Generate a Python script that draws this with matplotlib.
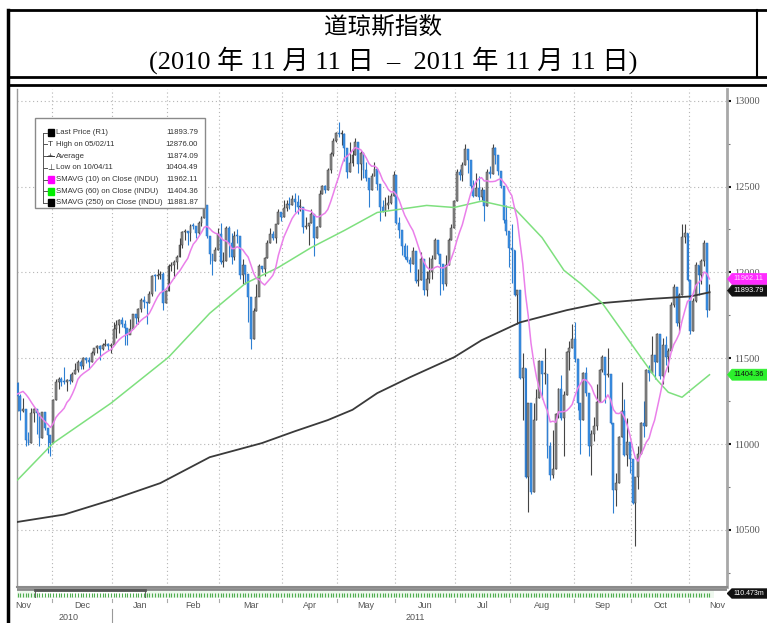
import numpy as np
import pandas as pd
import matplotlib
matplotlib.use("Agg")
import matplotlib.pyplot as plt
from matplotlib.patches import Rectangle, Polygon

# ---------------- data ----------------
title_line1 = "道琼斯指数"
title_line2 = "(2010 年 11 月 11 日  –  2011 年 11 月 11 日)"

start_date, end_date = "2010-11-11", "2011-11-10"
holidays = ["2010-11-25", "2010-12-24", "2011-01-17", "2011-02-21", "2011-04-22",
            "2011-05-30", "2011-07-04", "2011-09-05", "2011-11-24"]

prior_closes = [11118, 11125, 11189, 11215, 11435, 11444, 11407, 11347, 11357]

closes = [
    11283, 11193, 11202, 11024, 11008, 11181, 11204, 11179, 11036, 11187, 11092, 11052, 11006,
    11256, 11362, 11382, 11362, 11359, 11372, 11370, 11410, 11429, 11477, 11457, 11499, 11492, 11478,
    11533, 11559, 11573, 11555, 11576, 11585, 11570, 11578,
    11671, 11691, 11723, 11697, 11675, 11637, 11672, 11755, 11732, 11787, 11838, 11825, 11823, 11872,
    11981, 11977, 11985, 11990, 11824, 11892,
    12040, 12042, 12062, 12092, 12162, 12233, 12240, 12229, 12273, 12268, 12227, 12288, 12318, 12391,
    12213, 12106, 12069, 12130, 12226,
    12058, 12067, 12258, 12170, 12090, 12214, 12213, 11985, 12044, 11993, 11855, 11613, 11775, 11859,
    12037, 12019, 12086, 12171, 12221, 12198, 12279, 12351, 12320,
    12377, 12400, 12394, 12427, 12409, 12380, 12381, 12264, 12271, 12285, 12342, 12202, 12267, 12454,
    12506, 12480, 12595, 12691, 12763, 12811,
    12807, 12808, 12724, 12584, 12639, 12685, 12760, 12630, 12696, 12596, 12548, 12480, 12560, 12605,
    12512, 12381, 12356, 12395, 12403, 12442, 12570,
    12290, 12249, 12151, 12090, 12071, 12049, 12124, 11952, 11953, 12076, 11897, 11962, 12004, 12080,
    12190, 12110, 12050, 11935, 12044, 12189, 12261, 12414,
    12583, 12570, 12626, 12719, 12657, 12506, 12447, 12492, 12437, 12480, 12385, 12587, 12572, 12724,
    12681, 12593, 12501, 12303, 12240, 12143,
    12132, 11867, 11896, 11384, 11445, 10810, 11240, 10720, 11143, 11269, 11483, 11406, 11410, 10991,
    10818, 10855, 11177, 11321, 11150, 11285, 11539, 11560, 11614,
    11494, 11240, 11139, 11415, 11296, 10992, 11061, 11106, 11247, 11433, 11509, 11401, 11409, 11125,
    10734, 10771, 11044, 11191, 10938, 11011, 10913,
    10655, 10809, 10940, 11123, 11103, 11433, 11416, 11519, 11478, 11644, 11397, 11577, 11505, 11542,
    11809, 11914, 11707, 11869, 12209, 12231, 11955,
    11658, 11836, 12044, 11983, 12068, 12170, 11781, 11894,
]

highs = [
    11360, 11290, 11270, 11202, 11070, 11210, 11210, 11204, 11179, 11190, 11187, 11092, 11052,
    11260, 11380, 11390, 11390, 11450, 11380, 11410, 11420, 11470, 11490, 11490, 11510, 11510, 11510,
    11540, 11560, 11575, 11575, 11590, 11610, 11590, 11590,
    11710, 11720, 11730, 11740, 11720, 11675, 11730, 11760, 11760, 11790, 11850, 11860, 11830, 11890,
    11985, 11990, 12020, 12010, 12000, 11900,
    12050, 12060, 12070, 12100, 12200, 12240, 12250, 12240, 12280, 12290, 12270, 12300, 12330, 12400,
    12391, 12213, 12110, 12150, 12260,
    12290, 12120, 12270, 12270, 12230, 12240, 12250, 12213, 12080, 12044, 11990, 11855, 11790, 11930,
    12050, 12040, 12090, 12190, 12260, 12240, 12280, 12370, 12350,
    12420, 12420, 12440, 12450, 12460, 12450, 12430, 12381, 12320, 12290, 12370, 12342, 12270, 12480,
    12510, 12510, 12610, 12700, 12780, 12820,
    12876, 12830, 12810, 12724, 12760, 12710, 12780, 12760, 12710, 12700, 12640, 12550, 12580, 12640,
    12605, 12512, 12420, 12440, 12450, 12460, 12590,
    12570, 12320, 12249, 12170, 12160, 12090, 12150, 12124, 12020, 12120, 12076, 12010, 12090, 12100,
    12200, 12190, 12110, 12050, 12100, 12200, 12280, 12420,
    12600, 12600, 12640, 12750, 12719, 12657, 12540, 12580, 12560, 12500, 12480, 12600, 12620, 12750,
    12730, 12681, 12593, 12501, 12390, 12240,
    12280, 12130, 11900, 11896, 11530, 11445, 11240, 11240, 11240, 11320, 11490, 11483, 11560, 11410,
    11010, 11080, 11180, 11325, 11400, 11310, 11540, 11600, 11700,
    11710, 11494, 11240, 11420, 11450, 11296, 11080, 11160, 11350, 11440, 11520, 11509, 11560, 11409,
    11125, 10830, 11050, 11360, 11260, 11150, 11011,
    10913, 10810, 10990, 11130, 11250, 11435, 11460, 11630, 11519, 11650, 11644, 11620, 11630, 11560,
    11830, 11930, 11914, 11880, 12280, 12280, 12231,
    11955, 11850, 12060, 12044, 12080, 12190, 12170, 11930,
]

lows = [
    11195, 11140, 11190, 10990, 10995, 11008, 11130, 11060, 10990, 11036, 11080, 10950, 10930,
    11006, 11255, 11320, 11340, 11350, 11310, 11350, 11360, 11410, 11420, 11440, 11440, 11470, 11440,
    11480, 11520, 11530, 11490, 11550, 11570, 11550, 11530,
    11578, 11620, 11650, 11680, 11580, 11580, 11640, 11672, 11700, 11700, 11770, 11790, 11700, 11820,
    11860, 11890, 11960, 11960, 11780, 11820,
    11892, 12010, 11970, 12020, 12092, 12140, 12190, 12160, 12180, 12250, 12200, 12220, 12270, 12318,
    12200, 12050, 11985, 12069, 12130,
    12050, 12030, 12067, 12090, 12050, 12070, 12170, 11960, 11930, 11930, 11710, 11555, 11613, 11775,
    11860, 12000, 11980, 12086, 12170, 12190, 12170, 12279, 12300,
    12320, 12360, 12370, 12394, 12350, 12340, 12360, 12230, 12250, 12160, 12285, 12094, 12200, 12267,
    12454, 12460, 12480, 12580, 12680, 12760,
    12790, 12740, 12650, 12550, 12584, 12620, 12685, 12580, 12540, 12550, 12530, 12380, 12480, 12560,
    12480, 12300, 12350, 12330, 12370, 12400, 12442,
    12280, 12200, 12100, 12080, 12060, 12000, 12049, 11940, 11920, 11953, 11870, 11860, 11940, 11960,
    12080, 12100, 11870, 11900, 11920, 12044, 12189, 12261,
    12414, 12540, 12530, 12626, 12580, 12490, 12440, 12447, 12420, 12420, 12300, 12385, 12550, 12572,
    12630, 12570, 12490, 12290, 12220, 12030,
    11940, 11860, 11700, 11380, 11140, 10800, 10604, 10710, 10720, 11140, 11269, 11260, 11350, 10920,
    10790, 10800, 10855, 11150, 11140, 10930, 11285, 11430, 11560,
    11480, 11200, 10940, 11139, 11280, 10930, 10820, 11020, 11080, 11247, 11420, 11240, 11390, 11120,
    10600, 10640, 10771, 11044, 10930, 10870, 10830,
    10650, 10404, 10740, 10940, 11040, 11103, 11370, 11416, 11380, 11478, 11380, 11350, 11460, 11420,
    11542, 11800, 11690, 11650, 11869, 12170, 11950,
    11640, 11658, 11830, 11870, 11930, 12040, 11740, 11780,
]

# moving averages (trading-day index, value)
sma60_idx = [0, 13, 34, 55, 70, 83, 95, 107, 119, 131, 149, 159, 169, 181, 191, 199, 205, 213,
             220, 227, 233, 237, 242, 246, 252]
sma60_val = [10791, 11006, 11238, 11506, 11762, 11936, 12029, 12145, 12244, 12349, 12390, 12378,
             12415, 12372, 12203, 12012, 11936, 11820, 11663, 11506, 11372, 11302, 11273, 11326, 11404]
sma250_idx = [0, 17, 34, 52, 70, 89, 101, 113, 122, 131, 143, 159, 169, 183, 200, 212, 230, 245, 252]
sma250_val = [10547, 10590, 10674, 10773, 10924, 11006, 11075, 11140, 11200, 11297, 11390, 11506,
              11605, 11709, 11780, 11820, 11845, 11860, 11884]

legend_labels = ["Last Price (R1)", "High on 05/02/11", "Average", "Low on 10/04/11",
                 "SMAVG (10) on Close (INDU)", "SMAVG (60) on Close (INDU)",
                 "SMAVG (250) on Close (INDU)"]
legend_values = ["11893.79", "12876.00", "11874.09", "10404.49", "11962.11", "11404.36", "11881.87"]
tag_values = [11962.11, 11893.79, 11404.36]
tag_texts = ["11962.11", "11893.79", "11404.36"]
volume_tag = "110.473m"
y_major = [10500, 11000, 11500, 12000, 12500, 13000]

# ---------------- calendar ----------------
hol = pd.to_datetime(holidays)
full_days = pd.bdate_range("2010-11-01", "2011-11-30")
full_days = full_days[~full_days.isin(hol)]
days = full_days[(full_days >= start_date) & (full_days <= end_date)]
n = len(days)
offset = int(np.where(full_days == pd.Timestamp(start_date))[0][0])
full_idx = np.arange(len(full_days)) - offset

closes = np.array(closes[:n], float)
highs = np.array(highs[:n], float)
lows = np.array(lows[:n], float)
opens = np.concatenate([[prior_closes[-1]], closes[:-1]])
x = np.arange(n)
sma10 = pd.Series(list(prior_closes) + list(closes)).rolling(10).mean().to_numpy()[len(prior_closes):]

month_key = full_days.year * 100 + full_days.month
month_mid = pd.Series(full_idx).groupby(month_key).mean()
vis_key = days.year * 100 + days.month
month_start = pd.Series(x).groupby(vis_key).min()
vis_year = pd.Series(x).groupby(days.year).mean()

# ---------------- figure ----------------
W, H = 767, 623
fig = plt.figure(figsize=(W / 100, H / 100), dpi=100)
fig.patch.set_facecolor("white")

PX0, PXSTEP = 17.5, 2.746
L_PX, R_PX, T_PX, B_PX = 16.5, 727, 89, 587
xl = ((L_PX - PX0) / PXSTEP, (R_PX - PX0) / PXSTEP)
VPP = 5.823
ylo = 12000 - (B_PX - 272.4) * VPP
yhi = 12000 + (272.4 - T_PX) * VPP

small_font = ["Liberation Sans", "DejaVu Sans"]

bg = fig.add_axes([0, 0, 1, 1])
bg.set_xlim(0, W); bg.set_ylim(H, 0); bg.axis("off")

# frame and title
bg.plot([8, 767], [10, 10], color="black", lw=2)
bg.plot([8, 8], [10, 623], color="black", lw=2.5)
bg.plot([757, 757], [10, 77], color="black", lw=1.5)
bg.plot([8, 767], [77, 77], color="black", lw=2)
bg.plot([8, 767], [85, 85], color="black", lw=2)
bg.text(383, 27, title_line1, ha="center", va="center", fontsize=17,
        family=["Noto Sans CJK SC"], color="black")
bg.text(393, 60, title_line2, ha="center", va="center", fontsize=19,
        family=["Liberation Serif", "Noto Sans CJK SC"], color="black")

ax = fig.add_axes([L_PX / W, 1 - B_PX / H, (R_PX - L_PX) / W, (B_PX - T_PX) / H])
ax.set_facecolor("white")
ax.set_xlim(*xl)
ax.set_ylim(ylo, yhi)

grid_kw = dict(color="#b5b5b5", lw=0.8, ls=(0, (1, 2.5)), zorder=0)
for v in y_major:
    ax.axhline(v, **grid_kw)
for s in month_start.values[1:]:
    ax.axvline(s - 0.5, **grid_kw)

up = closes >= opens
ax.vlines(x[up], lows[up], highs[up], color="#444444", lw=0.8, zorder=2)
ax.vlines(x[~up], lows[~up], highs[~up], color="#2d7fd2", lw=0.8, zorder=2)
body_h = np.maximum(np.abs(closes - opens), 6)
body_b = np.minimum(closes, opens)
ax.bar(x[up], body_h[up], bottom=body_b[up], width=0.7, color="#8d8d8d",
       edgecolor="#3a3a3a", lw=0.35, zorder=3)
ax.bar(x[~up], body_h[~up], bottom=body_b[~up], width=0.7, color="#3a90e4",
       edgecolor="#2a70c0", lw=0.35, zorder=3)

ax.plot(sma250_idx, sma250_val, color="#3a3a3a", lw=1.3, zorder=4)
ax.plot(sma60_idx, sma60_val, color="#7ee07e", lw=1.1, zorder=4)
ax.plot(x, sma10, color="#ea80ea", lw=1.1, zorder=4)

ax.spines["top"].set_visible(False)
ax.spines["left"].set_color("#9a9a9a"); ax.spines["left"].set_lw(1)
ax.spines["bottom"].set_color("#8a8a8a"); ax.spines["bottom"].set_lw(1.5)
ax.spines["right"].set_color("#a8a8a8"); ax.spines["right"].set_lw(2)
ax.set_xticks([])
ax.yaxis.tick_right()
ax.set_yticks(y_major)
ax.set_yticklabels([str(v) for v in y_major])
ax.set_yticks(np.arange(10250, 13100, 250), minor=True)
ax.tick_params(axis="y", which="major", direction="out", length=3, width=1.5, color="#111",
               pad=2, labelsize=7.5, labelcolor="#555555")
ax.tick_params(axis="y", which="minor", direction="out", length=2, width=0.8, color="#777")
for lab in ax.get_yticklabels():
    lab.set_family(["Liberation Serif"])

# navigation / volume strip
sx = fig.add_axes([L_PX / W, 1 - 598 / H, (R_PX - L_PX) / W, 10 / H])
sx.set_xlim(*xl); sx.set_ylim(0, 1)
sx.set_xticks([]); sx.set_yticks([])
for sp in sx.spines.values():
    sp.set_visible(False)
sx.axhline(0.95, color="#8a8a8a", lw=2)
sx.add_patch(Rectangle((xl[0], 0.05), n + 0.5 - xl[0], 0.75, color="#eef8ee", lw=0))
sx.vlines(x, 0.1, 0.55, color="#4fae4f", lw=0.8)
sx.add_patch(Rectangle((6.4, 0.05), 40, 0.8, facecolor="white", edgecolor="#666", lw=0.8))
sx.plot([6.4, 46.4], [0.85, 0.85], color="#555", lw=2)

# month / year labels
names = {1: "Jan", 2: "Feb", 3: "Mar", 4: "Apr", 5: "May", 6: "Jun", 7: "Jul", 8: "Aug",
         9: "Sep", 10: "Oct", 11: "Nov", 12: "Dec"}
for key, mid in month_mid.items():
    px = PX0 + PXSTEP * mid
    bg.text(px, 606, names[key % 100], ha="center", va="center", fontsize=6.5,
            family=small_font, color="#555555")
for yr, mid in vis_year.items():
    bg.text(PX0 + PXSTEP * mid + 4, 618, str(yr), ha="center", va="center", fontsize=6.5,
            family=small_font, color="#555555")
for s in month_start.values[1:]:
    px = PX0 + PXSTEP * (s - 0.5)
    bg.plot([px, px], [599, 602], color="#aaaaaa", lw=0.8)
jan = month_start.loc[201101]
pxj = PX0 + PXSTEP * (jan - 0.5)
bg.plot([pxj, pxj], [609, 623], color="#999999", lw=0.8)

# foreground overlay: tags and legend
fg = fig.add_axes([0, 0, 1, 1])
fg.set_xlim(0, W); fg.set_ylim(H, 0); fg.axis("off")
fg.patch.set_alpha(0)

def value_to_py(v):
    return H - ax.transData.transform((0, v))[1]

tag_colors = [("#ff2cff", "#ffd8ff"), ("#111111", "white"), ("#2cf02c", "#111111")]
for v, t, (fc, tc) in zip(tag_values, tag_texts, tag_colors):
    py = value_to_py(v)
    fg.add_patch(Polygon([(727.5, py), (732, py - 5.5), (767, py - 5.5), (767, py + 5.5),
                          (732, py + 5.5)], closed=True, facecolor=fc, edgecolor=fc, lw=0.5))
    fg.text(733, py, t, ha="left", va="center", fontsize=5.3, family=small_font, color=tc)
fg.add_patch(Polygon([(727.5, 593.5), (732, 589), (767, 589), (767, 598), (732, 598)],
                     closed=True, facecolor="#111", edgecolor="#111"))
fg.text(733, 593.5, volume_tag, ha="left", va="center", fontsize=5, family=small_font,
        color="white")

# legend box
fg.add_patch(Rectangle((35, 118), 170, 90, facecolor="white", edgecolor="#8a8a8a", lw=1))
row_y = [132.7 + 11.7 * k for k in range(7)]
fg.plot([43, 43], [row_y[0], row_y[-1]], color="#555", lw=0.7)
for k, yy in enumerate(row_y):
    fg.plot([43, 47], [yy, yy], color="#555", lw=0.7)
    fg.text(56, yy, legend_labels[k], ha="left", va="center", fontsize=5.6, family=small_font,
            color="#333333")
    fg.text(198, yy, legend_values[k], ha="right", va="center", fontsize=5.6, family=small_font,
            color="#333333")
for k, c in [(0, "#000000"), (4, "#ff00ff"), (5, "#00ee00"), (6, "#000000")]:
    fg.add_patch(Rectangle((47.5, row_y[k] - 3.5), 6, 7, facecolor=c, edgecolor=c))
fg.text(50.5, row_y[1], "T", ha="center", va="center", fontsize=6, family=small_font, color="#333")
fg.text(50.5, row_y[2], "+", ha="center", va="center", fontsize=6, family=small_font, color="#333")
fg.plot([47, 54], [row_y[2], row_y[2]], color="#333", lw=0.7)
fg.text(50.5, row_y[3], "\u22a5", ha="center", va="center", fontsize=6, family=["DejaVu Sans"],
        color="#333")

fig.savefig("out.png", dpi=100, facecolor="white")
